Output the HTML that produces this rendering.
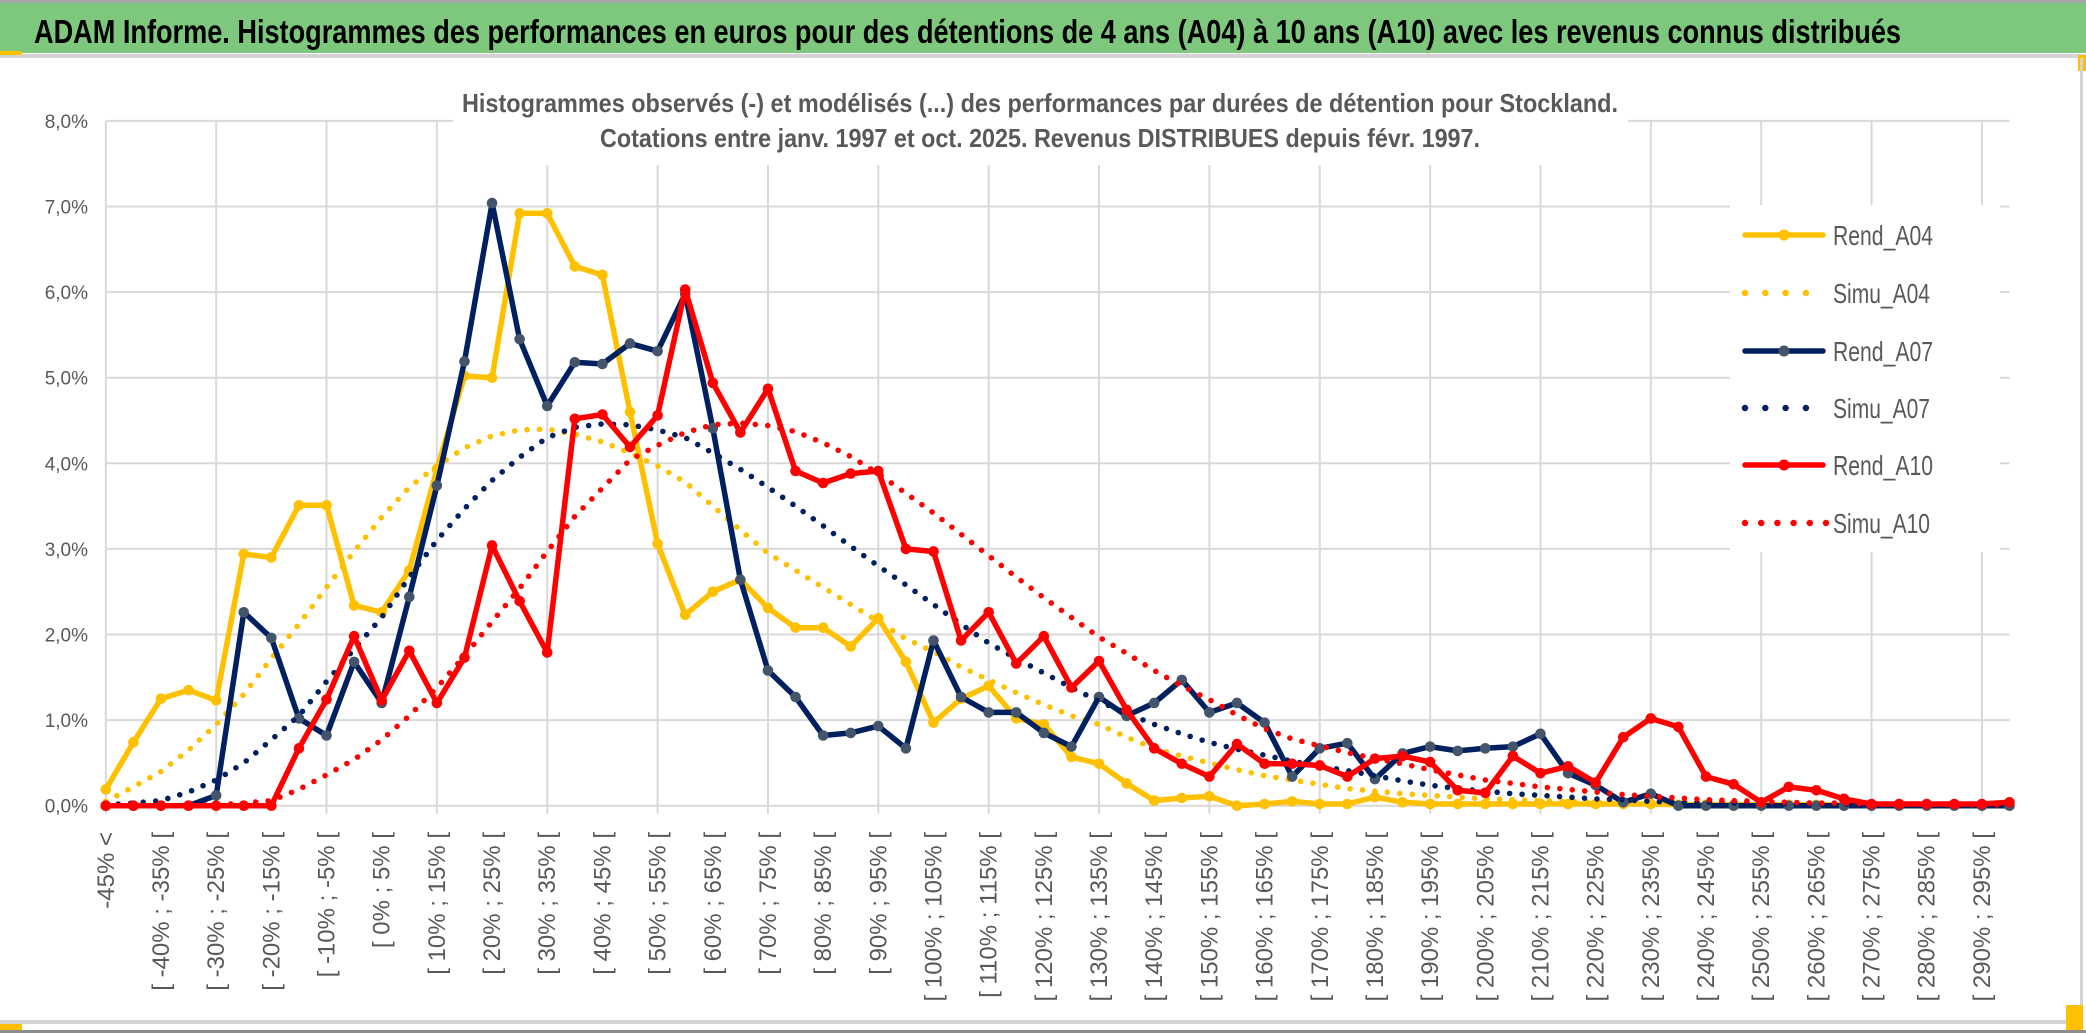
<!DOCTYPE html>
<html><head><meta charset="utf-8">
<style>
html,body{margin:0;padding:0;background:#fff;}
svg{display:block;font-family:"Liberation Sans",sans-serif;}
</style></head>
<body>
<svg id="chart" xmlns="http://www.w3.org/2000/svg" width="2086" height="1033" viewBox="0 0 2086 1033">
  <rect x="0" y="0" width="2086" height="1033" fill="#ffffff"/>
  <rect x="0" y="0" width="2086" height="3" fill="#a6a6a6"/>
  <rect x="0" y="3" width="2086" height="50" fill="#7ec87e"/>
  <rect x="0" y="54" width="2086" height="4" fill="#d4d4d4"/>
  <rect x="0" y="51" width="22" height="4" fill="#ffc000"/>
  <rect x="2078" y="55" width="8" height="16" fill="#ffc000"/>
  <rect x="2080" y="58" width="3" height="964" fill="#d4d4d4"/>
  <rect x="0" y="1020" width="2083" height="4" fill="#d4d4d4"/>
  <rect x="0" y="1030" width="2086" height="3" fill="#8c8c8c"/>
  <rect x="0" y="1024" width="22" height="6" fill="#ffc000"/>
  <rect x="2066" y="1005" width="17" height="25" fill="#ffc000"/>
  <text x="34" y="43" font-size="33" font-weight="bold" fill="#000" textLength="1867" lengthAdjust="spacingAndGlyphs">ADAM Informe. Histogrammes des performances en euros pour des détentions de 4 ans (A04) à 10 ans (A10) avec les revenus connus distribués</text>
  <g id="grid"></g>
  <rect x="453" y="60" width="1175" height="105" fill="#ffffff"/>
  <rect x="1730" y="205" width="270" height="347" fill="#ffffff"/>
  <g id="axes"></g>
  <g id="series"></g>
  <text x="462" y="112" font-size="26" font-weight="bold" fill="#595959" textLength="1156" lengthAdjust="spacingAndGlyphs">Histogrammes observés (-) et modélisés (...) des performances par durées de détention pour Stockland.</text>
  <text x="600" y="147" font-size="26" font-weight="bold" fill="#595959" textLength="880" lengthAdjust="spacingAndGlyphs">Cotations entre janv. 1997 et oct. 2025. Revenus DISTRIBUES depuis févr. 1997.</text>
  <g id="legend"></g>
</svg>
<script>
const categories = ["-45% <","[ -45% ; -40% [","[ -40% ; -35% [","[ -35% ; -30% [","[ -30% ; -25% [","[ -25% ; -20% [","[ -20% ; -15% [","[ -15% ; -10% [","[ -10% ; -5% [","[ -5% ; 0% [",
"[ 0% ; 5% [","[ 5% ; 10% [","[ 10% ; 15% [","[ 15% ; 20% [","[ 20% ; 25% [","[ 25% ; 30% [","[ 30% ; 35% [","[ 35% ; 40% [","[ 40% ; 45% [","[ 45% ; 50% [",
"[ 50% ; 55% [","[ 55% ; 60% [","[ 60% ; 65% [","[ 65% ; 70% [","[ 70% ; 75% [","[ 75% ; 80% [","[ 80% ; 85% [","[ 85% ; 90% [","[ 90% ; 95% [","[ 95% ; 100% [",
"[ 100% ; 105% [","[ 105% ; 110% [","[ 110% ; 115% [","[ 115% ; 120% [","[ 120% ; 125% [","[ 125% ; 130% [","[ 130% ; 135% [","[ 135% ; 140% [","[ 140% ; 145% [","[ 145% ; 150% [",
"[ 150% ; 155% [","[ 155% ; 160% [","[ 160% ; 165% [","[ 165% ; 170% [","[ 170% ; 175% [","[ 175% ; 180% [","[ 180% ; 185% [","[ 185% ; 190% [","[ 190% ; 195% [","[ 195% ; 200% [",
"[ 200% ; 205% [","[ 205% ; 210% [","[ 210% ; 215% [","[ 215% ; 220% [","[ 220% ; 225% [","[ 225% ; 230% [","[ 230% ; 235% [","[ 235% ; 240% [","[ 240% ; 245% [","[ 245% ; 250% [",
"[ 250% ; 255% [","[ 255% ; 260% [","[ 260% ; 265% [","[ 265% ; 270% [","[ 270% ; 275% [","[ 275% ; 280% [","[ 280% ; 285% [","[ 285% ; 290% [","[ 290% ; 295% [","[ 295% ; 300% ["];
const yTicks = [0,1,2,3,4,5,6,7,8];
const yTickLabels = ["0,0%","1,0%","2,0%","3,0%","4,0%","5,0%","6,0%","7,0%","8,0%"];
const rendA04 = [0.19,0.74,1.25,1.35,1.23,2.94,2.9,3.51,3.51,2.34, 2.26,2.75,3.93,5.02,5.0,6.92,6.92,6.3,6.2,4.6, 3.06,2.23,2.5,2.64,2.31,2.08,2.08,1.86,2.19,1.68, 0.97,1.25,1.4,1.02,0.95,0.57,0.49,0.26,0.06,0.09, 0.11,0.0,0.02,0.05,0.02,0.02,0.1,0.04,0.02,0.02, 0.02,0.02,0.02,0.02,0.02,0.02,0.02,0.01,0.01,0.01, 0.01,0.01,0.01,0.01,0.01,0.01,0.01,0.01,0.01,0.01];
const simuA04 = [0.05,0.22,0.4,0.65,0.95,1.3,1.72,2.12,2.55,2.97, 3.37,3.72,3.97,4.18,4.32,4.39,4.4,4.34,4.25,4.12, 3.97,3.78,3.5,3.22,2.95,2.75,2.55,2.35,2.15,1.95, 1.8,1.62,1.47,1.32,1.18,1.05,0.95,0.8,0.67,0.58, 0.5,0.42,0.35,0.3,0.25,0.2,0.17,0.14,0.12,0.1, 0.08,0.07,0.06,0.05,0.04,0.03,0.03,0.02,0.02,0.02, 0.01,0.01,0.01,0.01,0.01,0.01,0.01,0.01,0.01,0.01];
const rendA07 = [0,0,0,0,0.12,2.26,1.96,1.02,0.82,1.68, 1.2,2.44,3.74,5.19,7.04,5.45,4.67,5.18,5.16,5.4, 5.31,5.98,4.41,2.64,1.58,1.27,0.82,0.85,0.93,0.67, 1.93,1.27,1.09,1.09,0.85,0.69,1.27,1.05,1.2,1.47, 1.09,1.2,0.97,0.34,0.67,0.73,0.31,0.61,0.69,0.64, 0.67,0.69,0.84,0.38,0.24,0.04,0.14,0,0,0, 0,0,0,0,0,0,0,0,0,0];
const simuA07 = [0.01,0.03,0.06,0.16,0.3,0.5,0.77,1.05,1.45,1.83, 2.2,2.67,3.1,3.47,3.8,4.07,4.3,4.42,4.46,4.45, 4.39,4.3,4.12,3.93,3.72,3.5,3.27,3.03,2.8,2.58, 2.35,2.12,1.9,1.72,1.55,1.38,1.22,1.08,0.95,0.84, 0.74,0.66,0.59,0.52,0.46,0.41,0.35,0.29,0.24,0.2, 0.17,0.14,0.12,0.1,0.08,0.07,0.05,0.04,0.04,0.03, 0.03,0.02,0.02,0.02,0.01,0.01,0.01,0.01,0.01,0.01];
const rendA10 = [0,0,0,0,0,0,0,0.67,1.24,1.98, 1.23,1.81,1.2,1.73,3.04,2.39,1.79,4.52,4.57,4.19, 4.56,6.03,4.94,4.36,4.87,3.91,3.77,3.88,3.91,3.0, 2.97,1.93,2.26,1.66,1.98,1.38,1.69,1.12,0.67,0.49, 0.34,0.72,0.49,0.49,0.47,0.34,0.55,0.58,0.51,0.18, 0.15,0.58,0.38,0.46,0.27,0.8,1.02,0.92,0.34,0.25, 0.04,0.22,0.18,0.08,0.02,0.02,0.02,0.02,0.02,0.04];
const simuA10 = [0,0,0,0,0.01,0.03,0.06,0.19,0.36,0.54, 0.77,1.05,1.38,1.75,2.15,2.54,2.97,3.38,3.71,4.04, 4.21,4.36,4.45,4.47,4.44,4.37,4.24,4.08,3.88,3.65, 3.42,3.17,2.92,2.67,2.43,2.2,1.97,1.78,1.58,1.4, 1.24,1.06,0.9,0.78,0.7,0.62,0.55,0.49,0.42,0.36, 0.3,0.26,0.22,0.19,0.16,0.13,0.11,0.09,0.07,0.06, 0.05,0.04,0.03,0.03,0.02,0.02,0.02,0.01,0.01,0.01];

const NS = "http://www.w3.org/2000/svg";
const X0 = 105.8, DX = 27.59, Y0 = 805.7, DY = 85.6;
function xScale(i){ return X0 + DX * i; }
function yScale(v){ return Y0 - v * DY; }
function mk(tag, attrs, parent){
  const e = document.createElementNS(NS, tag);
  for (const k in attrs) e.setAttribute(k, attrs[k]);
  parent.appendChild(e);
  return e;
}
const grid = document.getElementById('grid');
const axes = document.getElementById('axes');
const seriesG = document.getElementById('series');
const legend = document.getElementById('legend');
const lastI = categories.length - 1;

yTicks.forEach(function(v, k){
  const l = mk('line', {x1: xScale(0), x2: xScale(lastI), y1: yScale(v), y2: yScale(v), stroke: '#d9d9d9', 'stroke-width': 2}, grid);
  
  
  const t = mk('text', {x: 88, y: yScale(v) + 7, 'text-anchor': 'end', 'font-size': 19, fill: '#595959'}, axes);
  t.textContent = yTickLabels[k];
  
  
});
categories.forEach(function(c, i){
  if (i % 4 === 0) {
    const l = mk('line', {x1: xScale(i), x2: xScale(i), y1: yScale(8), y2: yScale(0) + 8, stroke: '#d9d9d9', 'stroke-width': 2}, grid);
    
    
  }
  if (i % 2 === 0) {
    const x = xScale(i) + 8, y = 832;
    const t = mk('text', {x: x, y: y, 'text-anchor': 'end', 'font-size': 24, fill: '#595959', transform: 'rotate(-90 ' + x + ' ' + y + ')'}, axes);
    t.textContent = c;
    
    
  }
});

function pathD(vals){
  return vals.map(function(v, i){ return (i ? 'L' : 'M') + xScale(i).toFixed(1) + ' ' + yScale(v).toFixed(1); }).join(' ');
}
function drawRend(vals, color, mColor, name){
  const g = mk('g', {}, seriesG);
  
  
  const p = mk('path', {d: pathD(vals), fill: 'none', stroke: color, 'stroke-width': 5.5, 'stroke-linejoin': 'round'}, g);
  
  
  vals.forEach(function(v, i){
    const c = mk('circle', {cx: xScale(i), cy: yScale(v), r: 5.3, fill: mColor}, g);
    
    
  });
}
function drawSimu(vals, color, name){
  const p = mk('path', {d: pathD(vals), fill: 'none', stroke: color, 'stroke-width': 5.6, 'stroke-linecap': 'round', 'stroke-dasharray': '0 12.5'}, seriesG);
  
  
}
drawRend(rendA04, '#ffc000', '#ffc000', 'rend-a04');
drawSimu(simuA04, '#ffc000', 'simu-a04');
drawRend(rendA07, '#002060', '#44546a', 'rend-a07');
drawSimu(simuA07, '#002060', 'simu-a07');
drawRend(rendA10, '#ff0000', '#ff0000', 'rend-a10');
drawSimu(simuA10, '#ff0000', 'simu-a10');

const legendNames = ['Rend_A04','Simu_A04','Rend_A07','Simu_A07','Rend_A10','Simu_A10'];
const legendColors = ['#ffc000','#ffc000','#002060','#002060','#ff0000','#ff0000'];
const legendMarkers = ['#ffc000','','#44546a','','#ff0000',''];
const legendRows = [235, 293, 351, 408, 465, 523];
legendNames.forEach(function(n, k){
  const y = legendRows[k];
  const g = mk('g', {}, legend);
  
  
  if (legendMarkers[k]) {
    mk('line', {x1: 1745, x2: 1823, y1: y, y2: y, stroke: legendColors[k], 'stroke-width': 5.5, 'stroke-linecap': 'round'}, g);
    mk('circle', {cx: 1784, cy: y, r: 5.5, fill: legendMarkers[k]}, g);
  } else {
    mk('line', {x1: 1745, x2: (k === 5 ? 1826 : 1806), y1: y, y2: y, stroke: legendColors[k], 'stroke-width': 6.5, 'stroke-linecap': 'round', 'stroke-dasharray': (k === 5 ? '0 16.2' : '0 20.3')}, g);
  }
  const t = mk('text', {x: 1833, y: y + 10, 'font-size': 28, fill: '#595959', textLength: (k % 2 ? 97 : 100), lengthAdjust: 'spacingAndGlyphs'}, g);
  t.textContent = n;
});
</script>
</body></html>
